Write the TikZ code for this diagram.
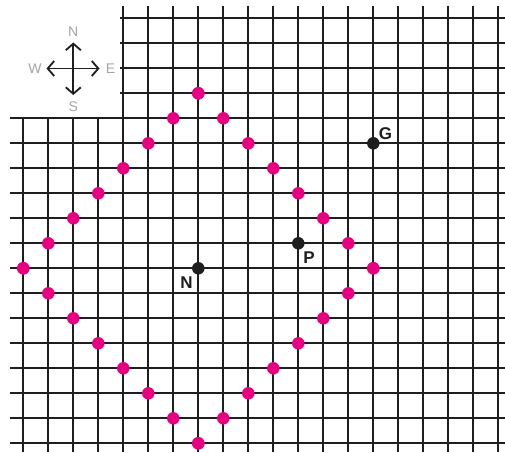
\documentclass[tikz,border=0pt]{standalone}
\usepackage{fontspec}
\setmainfont{Liberation Sans}
\usetikzlibrary{arrows.meta}
\definecolor{gridc}{RGB}{30,30,30}
\definecolor{mag}{RGB}{232,0,128}
\definecolor{compc}{RGB}{165,165,165}
\tikzset{
  gridline/.style={draw=gridc, line width=1.7pt},
  magdot/.style={circle, fill=mag, inner sep=0pt, minimum size=12.5pt},
  blkdot/.style={circle, fill=gridc, inner sep=0pt, minimum size=12.5pt},
  ptlabel/.style={font=\fontsize{17}{17}\selectfont\bfseries, text=gridc, inner sep=0pt},
  complabel/.style={font=\fontsize{14}{14}\selectfont, text=compc, inner sep=0pt},
  comparrow/.style={draw=gridc, line width=1.8pt, -{Straight Barb[length=6.5pt,width=15pt,line width=1.8pt]}}
}
\begin{document}
\begin{tikzpicture}[x=1pt,y=-1pt]
\useasboundingbox (0,0) rectangle (505,452);
\fill[white] (0,0) rectangle (505,452);
% grid: upper part (right of the compass)
\foreach \yy in {18.3,43.3,68.3,93.3} {
  \draw[gridline] (120,\yy) -- (505,\yy);
}
% grid: full-width rows
\foreach \yy in {118.3,143.3,...,443.3} {
  \draw[gridline] (10,\yy) -- (505,\yy);
}
% grid: short columns (below the compass)
\foreach \xx in {23.3,48.3,73.3,98.3} {
  \draw[gridline] (\xx,117) -- (\xx,452);
}
% grid: full-height columns
\foreach \xx in {123.3,148.3,...,498.3} {
  \draw[gridline] (\xx,6) -- (\xx,452);
}
% magenta diamond: |i-7|+|j-10| = 7
\foreach \k in {0,...,7} {
  \pgfmathtruncatemacro{\ia}{7+\k}
  \pgfmathtruncatemacro{\ib}{7-\k}
  \pgfmathtruncatemacro{\ja}{3+\k}
  \pgfmathtruncatemacro{\jb}{17-\k}
  \node[magdot] (d\ia-\ja) at ({23.3+25*\ia},{18.3+25*\ja}) {};
  \node[magdot] (d\ib-\ja) at ({23.3+25*\ib},{18.3+25*\ja}) {};
  \node[magdot] (d\ia-\jb) at ({23.3+25*\ia},{18.3+25*\jb}) {};
  \node[magdot] (d\ib-\jb) at ({23.3+25*\ib},{18.3+25*\jb}) {};
}
% black points
\node[blkdot] (G) at (373.3,143.3) {};
\node[blkdot] (P) at (298.3,243.3) {};
\node[blkdot] (N) at (198.3,268.3) {};
\node[ptlabel] (Glab) at (385.5,133.5) {G};
\node[ptlabel] (Plab) at (309,257.5) {P};
\node[ptlabel] (Nlab) at (186.5,283) {N};
% compass
\coordinate (c) at (73.3,68.5);
\coordinate (cn) at (73.3,42.5);
\coordinate (cs) at (73.3,95);
\coordinate (cw) at (46.5,68.5);
\coordinate (ce) at (99.5,68.5);
\draw[comparrow] (c) -- (cn);
\draw[comparrow] (c) -- (cs);
\draw[comparrow] (c) -- (cw);
\draw[comparrow] (c) -- (ce);
\node[complabel] (Nc) at (73.3,31.5) {N};
\node[complabel] (Sc) at (73.3,107) {S};
\node[complabel] (Wc) at (35,69) {W};
\node[complabel] (Ec) at (110.5,69) {E};
\end{tikzpicture}
\end{document}
